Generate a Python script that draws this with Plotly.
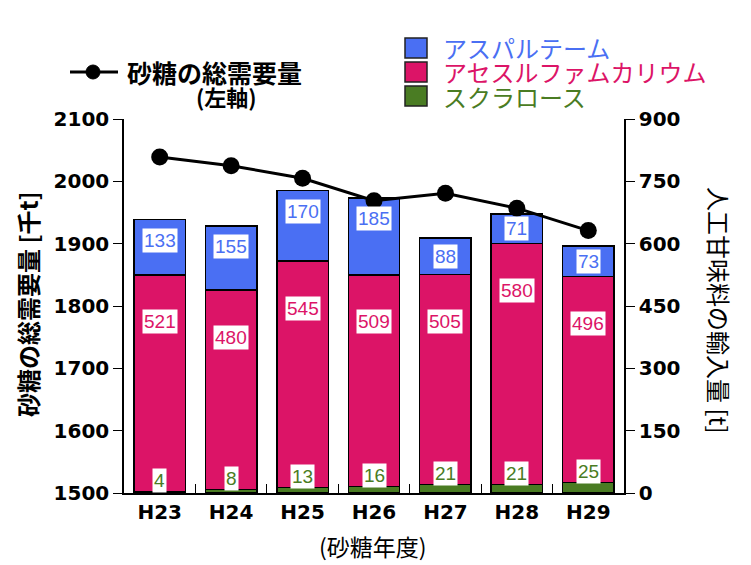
import plotly.graph_objects as go

years = ["H23", "H24", "H25", "H26", "H27", "H28", "H29"]
sugar_demand = [2039, 2025, 2005, 1969, 1981, 1957, 1921]   # 千t (left axis)
sucralose = [4, 8, 13, 16, 21, 21, 25]                       # t (right axis)
acesulfame = [521, 480, 545, 509, 505, 580, 496]
aspartame = [133, 155, 170, 185, 88, 71, 73]

BLUE = "#4A6FF3"
PINK = "#DC1467"
GREEN = "#4A7C23"
JP = "Noto Sans CJK JP"

# page has an 8px body margin: figure spans x 8..743, y 8..565
OFF = 8
W, H = 735, 557
L, T = 124 - OFF, 119 - OFF
R = W - (624 - OFF)
B = H - (493 - OFF)

fig = go.Figure()
bar_line = dict(color="black", width=1.5)
fig.add_trace(go.Bar(x=years, y=sucralose, name="スクラロース", marker=dict(color=GREEN, line=bar_line),
                     width=0.72, yaxis="y", hoverinfo="skip"))
fig.add_trace(go.Bar(x=years, y=acesulfame, name="アセスルファムカリウム", marker=dict(color=PINK, line=bar_line),
                     width=0.72, yaxis="y", hoverinfo="skip"))
fig.add_trace(go.Bar(x=years, y=aspartame, name="アスパルテーム", marker=dict(color=BLUE, line=bar_line),
                     width=0.72, yaxis="y", hoverinfo="skip"))
fig.add_trace(go.Scatter(x=years, y=sugar_demand, name="砂糖の総需要量", yaxis="y2", mode="lines+markers",
                         line=dict(color="black", width=3), marker=dict(color="black", size=17)))

ann = []
lab_font = dict(family="Liberation Sans, Arial", size=19)
for i, yr in enumerate(years):
    g = sucralose[i]
    p_top = g + acesulfame[i]
    b_top = p_top + aspartame[i]
    ann.append(dict(x=yr, y=g + 26, xref="x", yref="y", text=str(g), showarrow=False,
                    bgcolor="white", borderpad=1, font=dict(lab_font, color=GREEN)))
    ann.append(dict(x=yr, y=p_top - 113, xref="x", yref="y", text=str(acesulfame[i]), showarrow=False,
                    bgcolor="white", borderpad=1, font=dict(lab_font, color=PINK)))
    ann.append(dict(x=yr, y=max((p_top + b_top) / 2, b_top - 50), xref="x", yref="y", text=str(aspartame[i]),
                    showarrow=False, bgcolor="white", borderpad=1, font=dict(lab_font, color=BLUE)))


def px(xp):
    return (xp - 124) / 500


def py(yp):
    return (493 - yp) / 374


def text_ann(x, y, text, font, xanchor="center", angle=0):
    return dict(x=px(x), y=py(y), xref="paper", yref="paper", text=text, textangle=angle,
                xanchor=xanchor, yanchor="middle", showarrow=False, font=font)


# axis titles
ann.append(text_ann(27, 304, "砂糖の総需要量 [千t]", dict(family=JP, size=24, color="black", weight="bold"), angle=-90))
ann.append(text_ann(720, 310, "人工甘味料の輸入量 [t]", dict(family=JP, size=24, color="black"), angle=90))
ann.append(text_ann(373, 546, "(砂糖年度)", dict(family=JP, size=23, color="black")))

# legend: line series
shapes = [
    dict(type="line", xref="paper", yref="paper", x0=px(70), x1=px(118), y0=py(72), y1=py(72),
         line=dict(color="black", width=3)),
    dict(type="circle", xref="paper", yref="paper", x0=px(86), x1=px(100), y0=py(79), y1=py(65),
         fillcolor="black", line=dict(color="black", width=1)),
]
ann.append(text_ann(125, 72, "砂糖の総需要量", dict(family=JP, size=25, color="black", weight="bold"), xanchor="left"))
ann.append(text_ann(226, 96, "(左軸)", dict(family=JP, size=22, color="black", weight="bold")))

# legend: bar series
leg = [("アスパルテーム", BLUE, 48), ("アセスルファムカリウム", PINK, 72), ("スクラロース", GREEN, 96)]
for name, col, yc in leg:
    shapes.append(dict(type="rect", xref="paper", yref="paper", x0=px(405), x1=px(427),
                       y0=py(yc + 10), y1=py(yc - 10), fillcolor=col, line=dict(color="#222", width=1.5)))
    ann.append(text_ann(441, yc, name, dict(family=JP, size=24, color=col), xanchor="left"))

tick_font = dict(family="DejaVu Sans", size=20, color="black", weight="bold")
fig.update_layout(
    width=W, height=H,
    margin=dict(l=L, r=R, t=T, b=B),
    paper_bgcolor="white", plot_bgcolor="white",
    barmode="stack", bargap=0.28, showlegend=False,
    xaxis=dict(type="category", showline=True, linecolor="black", linewidth=1.5, ticks="inside",
               tickson="boundaries", ticklen=9, tickcolor="black", tickfont=tick_font, showgrid=False),
    yaxis=dict(side="right", range=[0, 900], tickvals=[0, 150, 300, 450, 600, 750, 900], showline=True,
               linecolor="black", linewidth=1.5, ticks="outside", ticklen=9, tickcolor="black",
               tickfont=tick_font, showgrid=False, zeroline=False),
    yaxis2=dict(side="left", overlaying="y", range=[1500, 2100], dtick=100, showline=True,
                linecolor="black", linewidth=1.5, ticks="outside", ticklen=9, tickcolor="black",
                tickfont=tick_font, showgrid=False, zeroline=False),
    annotations=ann, shapes=shapes,
)

fig.write_html("out.html")
